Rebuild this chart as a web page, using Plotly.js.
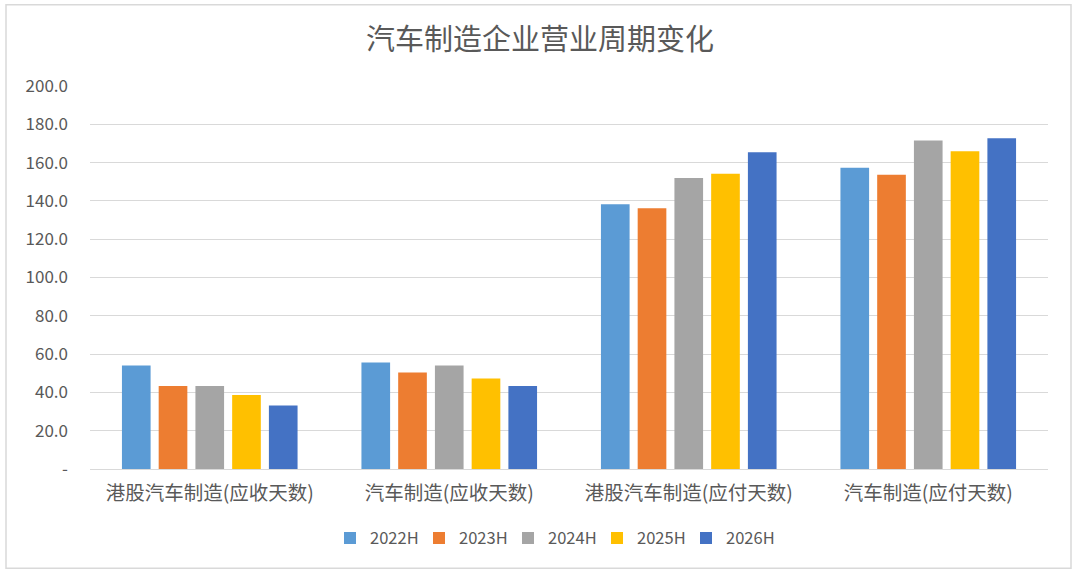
<!DOCTYPE html>
<html>
<head>
<meta charset="utf-8">
<script src="https://cdn.plot.ly/plotly-3.0.1.min.js"></script>
<style>
html,body{margin:0;padding:0;background:#fff;}
#chart{width:1080px;height:577px;}
</style>
</head>
<body>
<div id="chart"></div>
<script>
const categories = ["港股汽车制造(应收天数)", "汽车制造(应收天数)", "港股汽车制造(应付天数)", "汽车制造(应付天数)"];
const seriesNames = ["2022H", "2023H", "2024H", "2025H", "2026H"];
const v2022 = [54.0, 55.6, 138.2, 157.3];
const v2023 = [43.4, 50.4, 136.1, 153.7];
const v2024 = [43.4, 54.1, 152.0, 171.6];
const v2025 = [38.6, 47.3, 154.2, 165.9];
const v2026 = [33.2, 43.4, 165.4, 172.7];
const colors = ["#5B9BD5", "#ED7D31", "#A5A5A5", "#FFC000", "#4472C4"];
const yTickVals = [0, 20, 40, 60, 80, 100, 120, 140, 160, 180, 200];
const yTickText = ["-", "20.0", "40.0", "60.0", "80.0", "100.0", "120.0", "140.0", "160.0", "180.0", "200.0"];

const allValues = [v2022, v2023, v2024, v2025, v2026];
const traces = allValues.map((vals, i) => ({
  type: "bar",
  name: seriesNames[i],
  x: categories,
  y: vals,
  marker: {color: colors[i]},
  hoverinfo: "x+y+name"
}));

const W = 1080, H = 577;
const mL = 90, mR = 32, mT = 85.5, mB = 107.5;
const pw = W - mL - mR, ph = H - mT - mB;
const px = x => (x - mL) / pw;
const py = y => (H - mB - y) / ph;

const font = "'Noto Sans CJK SC', 'Noto Sans', sans-serif";
const layout = {
  width: W, height: H,
  margin: {l: mL, r: mR, t: mT, b: mB},
  paper_bgcolor: "#ffffff",
  plot_bgcolor: "#ffffff",
  font: {family: font, color: "#595959"},
  title: {
    text: "汽车制造企业营业周期变化",
    font: {family: font, size: 29, color: "#595959"},
    x: 0.5, xanchor: "center", xref: "container",
    y: 1 - 40 / H, yanchor: "middle", yref: "container"
  },
  barmode: "group",
  bargap: 0.233,
  bargroupgap: 0.22,
  xaxis: {
    type: "category",
    showgrid: false,
    showline: true,
    linecolor: "#D9D9D9",
    linewidth: 1,
    ticks: "",
    tickfont: {family: font, size: 19.5, color: "#595959"},
    ticklabelstandoff: 7
  },
  yaxis: {
    range: [0, 200],
    tickvals: yTickVals,
    ticktext: yTickText,
    showgrid: true,
    gridcolor: "#D9D9D9",
    gridwidth: 1,
    zeroline: false,
    showline: false,
    ticks: "",
    ticklabelstandoff: 21,
    tickfont: {family: font, size: 17, color: "#595959"}
  },
  showlegend: true,
  legend: {
    orientation: "h",
    x: px(330), xanchor: "left",
    y: py(539), yanchor: "middle",
    font: {family: font, size: 16.5, color: "#595959"},
    itemwidth: 30,
    entrywidth: 44,
    entrywidthmode: "pixels",
    tracegroupgap: 0,
    traceorder: "normal"
  },
  shapes: [{
    type: "rect", xref: "paper", yref: "paper",
    x0: px(6), x1: px(1071), y0: py(569), y1: py(4),
    line: {color: "#D9D9D9", width: 1.5},
    fillcolor: "rgba(0,0,0,0)",
    layer: "below"
  }]
};

Plotly.newPlot("chart", traces, layout, {displayModeBar: false, staticPlot: true});
</script>
</body>
</html>
